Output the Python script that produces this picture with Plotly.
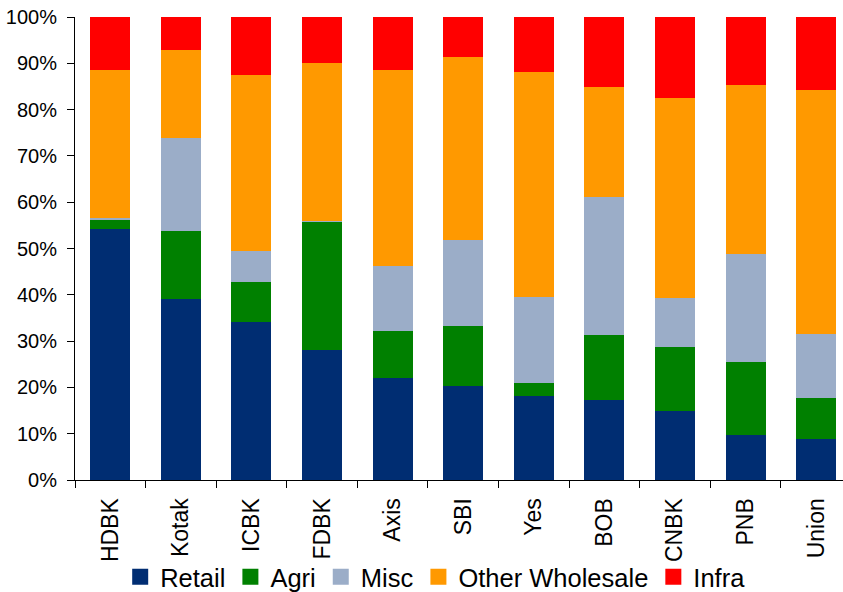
import plotly.graph_objects as go

banks = ["HDBK", "Kotak", "ICBK", "FDBK", "Axis", "SBI", "Yes", "BOB", "CNBK", "PNB", "Union"]
retail = [54.2, 39.1, 34.2, 28.1, 22.1, 20.3, 18.1, 17.3, 14.9, 9.7, 8.8]
agri = [2.1, 14.6, 8.5, 27.7, 10.1, 12.9, 2.8, 14.0, 13.8, 15.8, 8.9]
misc = [0.3, 20.2, 6.7, 0.1, 14.1, 18.7, 18.6, 29.8, 10.7, 23.3, 13.9]
other_wholesale = [31.9, 18.9, 38.0, 34.1, 42.2, 39.4, 48.6, 23.7, 43.0, 36.5, 52.6]
infra = [11.5, 7.2, 12.6, 10.0, 11.5, 8.7, 11.9, 15.2, 17.6, 14.7, 15.8]

series = [
    ("Retail", retail, "#002D72"),
    ("Agri", agri, "#008000"),
    ("Misc", misc, "#9BADC8"),
    ("Other Wholesale", other_wholesale, "#FF9900"),
    ("Infra", infra, "#FF0000"),
]

FONT = "Arial, Liberation Sans, sans-serif"

fig = go.Figure()
for name, vals, color in series:
    fig.add_trace(go.Bar(
        x=banks, y=vals, name=name, marker=dict(color=color, line=dict(width=0)),
        showlegend=False,
    ))
for name, vals, color in series:
    fig.add_trace(go.Scatter(
        x=[None], y=[None], mode="markers", name=name,
        marker=dict(symbol="square", size=16, color=color),
        showlegend=True,
    ))

fig.update_layout(
    barmode="stack",
    bargap=0.433,
    width=843, height=592,
    margin=dict(l=75, r=0, t=17, b=112, autoexpand=False),
    plot_bgcolor="white", paper_bgcolor="white",
    font=dict(family=FONT, color="black"),
    legend=dict(
        orientation="h", x=0.469, xanchor="center", y=-0.21, yanchor="middle",
        font=dict(size=25.5, family=FONT, color="black"),
        itemwidth=30, tracegroupgap=0, bgcolor="rgba(0,0,0,0)",
        traceorder="normal",
    ),
    xaxis=dict(
        type="category", range=[-0.5, 10.38],
        showline=True, linecolor="black", linewidth=1,
        ticks="outside", tickson="boundaries", ticklen=7, tickcolor="black",
        tickangle=-90, tickfont=dict(size=23, family=FONT, color="black"),
        ticklabelstandoff=8, automargin=False,
        showgrid=False, zeroline=False,
    ),
    yaxis=dict(
        range=[0, 100], dtick=10, ticksuffix="%",
        showline=True, linecolor="black", linewidth=1,
        ticks="outside", ticklen=7, tickcolor="black",
        tickfont=dict(size=20, family=FONT, color="black"),
        ticklabelstandoff=6, automargin=False,
        showgrid=False, zeroline=False,
    ),
)

fig.write_html("out.html")
